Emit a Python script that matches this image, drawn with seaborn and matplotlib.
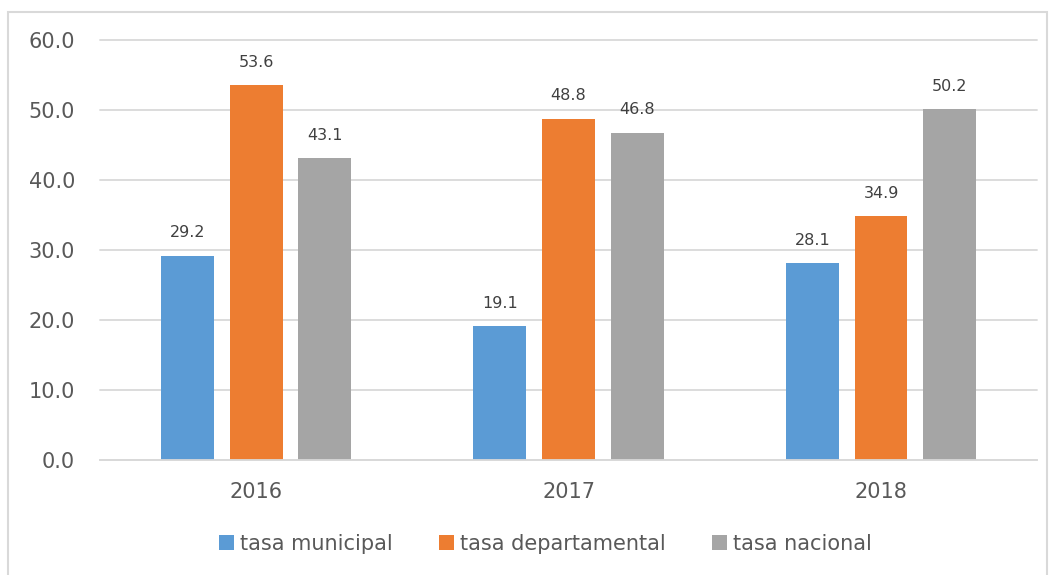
import numpy as np
import pandas as pd
import matplotlib
matplotlib.use('Agg')
import matplotlib.pyplot as plt
import matplotlib.patches as patches
import seaborn as sns

# Data
years = ['2016', '2017', '2018']
series = ['tasa municipal', 'tasa departamental', 'tasa nacional']
municipal = [29.2, 19.1, 28.1]
departamental = [53.6, 48.8, 34.9]
nacional = [43.1, 46.8, 50.2]
colors = ['#5B9BD5', '#ED7D31', '#A5A5A5']

df = pd.DataFrame({
    'year': years * 3,
    'serie': [series[0]] * 3 + [series[1]] * 3 + [series[2]] * 3,
    'valor': municipal + departamental + nacional,
})

sns.set_style('white')
plt.rcParams['font.family'] = ['DejaVu Sans']

fig = plt.figure(figsize=(10.53, 5.75), dpi=100)
ax = fig.add_axes([0.095, 0.2, 0.89, 0.73])

sns.barplot(data=df, x='year', y='valor', hue='serie', hue_order=series,
            palette=colors, width=0.66, gap=0.23, saturation=1, ax=ax,
            linewidth=0, legend=True)

# Labels above bars
for cont in ax.containers:
    ax.bar_label(cont, fmt='%.1f', padding=11, fontsize=11.5, color='#404040')

ax.set_ylim(0, 60)
ax.set_xlim(-0.5, 2.5)
ax.set_yticks(np.arange(0, 61, 10))
ax.set_yticklabels([f'{v:.1f}' for v in np.arange(0, 61, 10)])
ax.yaxis.grid(True, color='#D9D9D9', linewidth=1.3)
for gl in ax.get_ygridlines():
    gl.set_clip_on(False)
ax.set_axisbelow(True)
for s in ['top', 'right', 'left']:
    ax.spines[s].set_visible(False)
ax.spines['bottom'].set_color('#D9D9D9')
ax.spines['bottom'].set_linewidth(1.3)
ax.tick_params(axis='both', length=0, labelsize=15, colors='#595959')
ax.tick_params(axis='y', pad=18)
ax.tick_params(axis='x', pad=16)
ax.set_xlabel('')
ax.set_ylabel('')

handles, labels = ax.get_legend_handles_labels()
ax.get_legend().remove()
fig.legend(handles, labels, loc='center', bbox_to_anchor=(0.518, 0.054), ncol=3,
           frameon=False, fontsize=15, handlelength=0.72, handleheight=0.72,
           handletextpad=0.3, columnspacing=2.2, labelcolor='#595959')

# Chart border
fig.patches.append(patches.Rectangle((8 / 1053, -0.01), 1039 / 1053, 1 - 12 / 575 + 0.01,
                                     transform=fig.transFigure, fill=False,
                                     edgecolor='#D9D9D9', linewidth=1.5))

fig.savefig('out.png', dpi=100)
